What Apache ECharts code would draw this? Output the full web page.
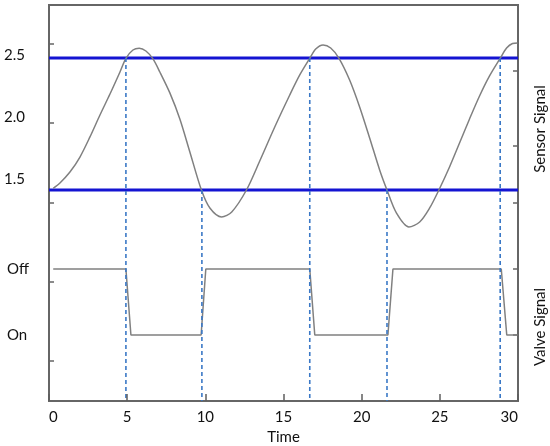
<!DOCTYPE html>
<html>
<head>
<meta charset="utf-8">
<script src="https://cdn.jsdelivr.net/npm/echarts@6/dist/echarts.min.js"></script>
<style>
  html, body { margin: 0; background: #fff; }
  #chart { width: 550px; height: 446px; }
</style>
</head>
<body>
<div id="chart"></div>
<script>
// sensor trace (time, value on the labelled scale)
const sensorTime = [0.27, 0.70, 1.34, 1.98, 2.62, 3.26, 3.90, 4.54, 4.92, 5.37, 5.77, 6.20, 6.65, 7.09, 7.73,
  8.37, 9.01, 9.75, 10.29, 11.04, 11.69, 12.63, 13.48, 14.44, 15.40, 16.04, 16.68, 17.06, 17.53, 18.02,
  18.55, 19.23, 19.87, 20.51, 21.15, 21.62, 22.22, 23.02, 23.71, 24.35, 24.94, 25.62, 26.26, 26.90,
  27.54, 28.18, 28.86, 29.27, 29.65, 29.97]
const sensorValue = [1.425, 1.468, 1.556, 1.677, 1.839, 2.016, 2.185, 2.363, 2.473, 2.540, 2.554, 2.532, 2.468, 2.363, 2.194,
  1.984, 1.718, 1.411, 1.266, 1.194, 1.234, 1.411, 1.645, 1.919, 2.177, 2.339, 2.473, 2.548, 2.581, 2.556,
  2.473, 2.298, 2.081, 1.831, 1.573, 1.411, 1.226, 1.113, 1.153, 1.266, 1.411, 1.597, 1.790, 1.984,
  2.169, 2.331, 2.473, 2.556, 2.593, 2.597]

// valve: 1 = Off, 0 = On
const valveTime = [0.27, 4.92, 5.24, 9.73, 10.03, 16.68, 17.0, 21.68, 22.0, 28.93, 29.28, 29.97]
const valveState = [1, 1, 0, 0, 1, 1, 0, 0, 1, 1, 0, 0]

const thresholds = [2.476, 1.411]
const switchTimes = [4.92, 9.78, 16.68, 21.62, 28.86]
const switchLevels = [2.476, 1.411, 2.476, 1.411, 2.476]

const timeTicks = [5, 10, 15, 20, 25]
const sensorLabels = [1.5, 2.0, 2.5]
const sensorTicksLeft = [1.31, 1.95, 2.59]
const sensorTicksRight = [1.31, 1.77, 2.37]
const valveLabelValues = [0, 1]
const valveLabelText = ['On', 'Off']
const valveTicksLeft = [-0.39, 0.81]
const valveTicksRight = [0, 1]

const frame = '#666666'
const ink = '#111111'
const font = 'Lato'

const zip = (xs, ys) => xs.map((x, i) => [x, ys[i]])

const tick = (values) => ({
  show: true,
  inside: true,
  length: 5,
  customValues: values,
  lineStyle: { color: frame, width: 1.5 },
})

const box = { left: 49, width: 469, outerBoundsMode: 'none', containLabel: false }

const chart = echarts.init(document.getElementById('chart'))

chart.setOption({
  animation: false,
  backgroundColor: '#ffffff',
  textStyle: { fontFamily: font, color: ink },
  grid: [
    { ...box, top: 5, height: 396, show: true, borderColor: frame, borderWidth: 2 },
    { ...box, top: 5, height: 248 },
    { ...box, top: 253, height: 148 },
    // thin strip along the bottom edge whose split lines act as the time ticks
    { ...box, top: 394, height: 7 },
  ],
  xAxis: [
    {
      gridIndex: 0,
      type: 'value',
      position: 'bottom',
      min: 0,
      max: 30,
      interval: 5,
      axisLine: { show: false, onZero: false },
      axisTick: { show: false },
      axisLabel: { fontSize: 15, color: ink, fontFamily: font, margin: 9, alignMinLabel: 'left', alignMaxLabel: 'right' },
      splitLine: { show: false },
      name: 'Time',
      nameLocation: 'middle',
      nameGap: 29,
      nameTextStyle: { fontSize: 15, color: ink, fontFamily: font },
    },
    { gridIndex: 1, type: 'value', min: 0, max: 30, show: false },
    { gridIndex: 2, type: 'value', min: 0, max: 30, show: false },
    {
      gridIndex: 3,
      type: 'value',
      position: 'bottom',
      min: 0,
      max: 30,
      z: 10,
      axisLine: { show: false, onZero: false },
      axisTick: { show: false },
      axisLabel: { show: false },
      splitLine: { show: true, customValues: timeTicks, lineStyle: { color: '#5e5e5e', width: 1.5 } },
    },
  ],
  yAxis: [
    { gridIndex: 0, type: 'value', min: -0.29, max: 2.903, show: false },
    {
      gridIndex: 1,
      type: 'value',
      position: 'left',
      min: 0.903,
      max: 2.903,
      axisLine: { show: false },
      axisTick: tick(sensorTicksLeft),
      axisLabel: {
        customValues: sensorLabels,
        formatter: (v) => v.toFixed(1),
        fontSize: 15,
        color: ink,
        fontFamily: font,
        margin: 24,
      },
      splitLine: { show: false },
    },
    {
      gridIndex: 1,
      type: 'value',
      position: 'right',
      min: 0.903,
      max: 2.903,
      axisLine: { show: false },
      axisTick: tick(sensorTicksRight),
      axisLabel: { show: false },
      splitLine: { show: false },
      name: 'Sensor Signal',
      nameLocation: 'middle',
      nameRotate: 90,
      nameGap: 15,
      nameTextStyle: { fontSize: 15, color: ink, fontFamily: font },
    },
    {
      gridIndex: 2,
      type: 'value',
      position: 'left',
      min: -1,
      max: 1.2424,
      axisLine: { show: false },
      axisTick: tick(valveTicksLeft),
      axisLabel: {
        customValues: valveLabelValues,
        formatter: (v) => valveLabelText[valveLabelValues.indexOf(v)],
        fontSize: 15,
        color: ink,
        fontFamily: font,
        align: 'left',
        margin: 42,
        padding: [12, 0, 0, 0],
      },
      splitLine: { show: false },
    },
    {
      gridIndex: 2,
      type: 'value',
      position: 'right',
      min: -1,
      max: 1.2424,
      axisLine: { show: false },
      axisTick: tick(valveTicksRight),
      axisLabel: { show: false },
      splitLine: { show: false },
      name: 'Valve Signal',
      nameLocation: 'middle',
      nameRotate: 90,
      nameGap: 15,
      nameTextStyle: { fontSize: 15, color: ink, fontFamily: font },
    },
    { gridIndex: 3, type: 'value', min: 0, max: 1, show: false },
  ],
  series: [
    ...thresholds.map((v) => ({
      type: 'line',
      xAxisIndex: 1,
      yAxisIndex: 1,
      data: [[0, v], [30, v]],
      showSymbol: false,
      silent: true,
      lineStyle: { color: '#1414d2', width: 3 },
      z: 2,
    })),
    {
      name: 'Sensor',
      type: 'line',
      xAxisIndex: 1,
      yAxisIndex: 1,
      data: zip(sensorTime, sensorValue),
      showSymbol: false,
      smooth: 0.3,
      lineStyle: { color: '#808080', width: 1.5 },
      z: 3,
    },
    {
      name: 'Valve',
      type: 'line',
      xAxisIndex: 2,
      yAxisIndex: 3,
      data: zip(valveTime, valveState),
      showSymbol: false,
      lineStyle: { color: '#808080', width: 1.5 },
      z: 3,
    },
    ...switchTimes.map((t, i) => ({
      type: 'line',
      xAxisIndex: 0,
      yAxisIndex: 0,
      data: [[t, switchLevels[i]], [t, -0.29]],
      showSymbol: false,
      silent: true,
      lineStyle: { color: '#3a78c6', width: 1.6, type: [4, 3] },
      z: 4,
    })),
  ],
})
</script>
</body>
</html>
